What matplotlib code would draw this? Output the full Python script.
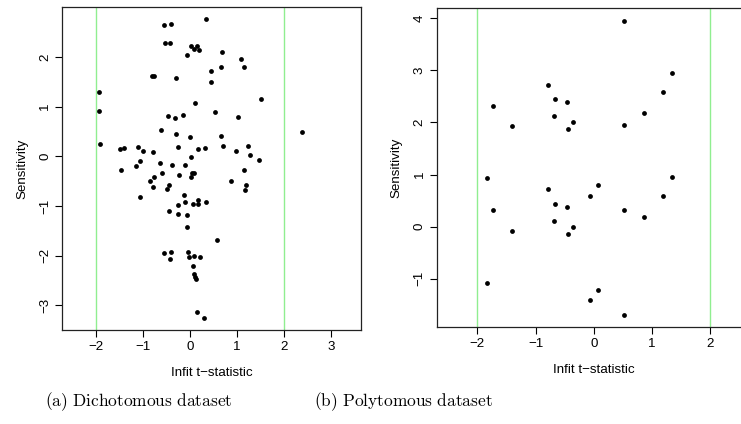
import matplotlib
matplotlib.use('Agg')
import matplotlib.pyplot as plt

plt.rcParams['font.family'] = ['Liberation Sans', 'DejaVu Sans']
plt.rcParams['mathtext.fontset'] = 'cm'

# (a) dichotomous dataset: infit t-statistic vs sensitivity
dich_infit = [0.33, -0.55, -0.40, -0.53, -0.43, 0.01, 0.14, 0.08, 0.18, -0.07,
              0.69, 1.08, 0.65, 1.14, 0.45, 0.45, -0.81, -0.76, -0.30, -1.94,
              -1.94, 1.50, 0.11, -0.46, -0.32, -0.14, 0.53, 1.02, 2.39, -0.62,
              -0.30, 0.65, 0.00, -1.92, -1.50, -1.40, -1.11, -1.01, -0.78, -0.25,
              0.17, 0.32, 0.71, 0.97, 1.23, 1.27, 1.46, 0.03, -1.46, -1.16,
              -1.06, -0.63, -0.39, -0.11, -0.59, -0.23, 0.04, 0.09, 0.01, -0.86,
              -0.77, -0.79, -0.44, -0.50, 0.87, 1.15, 1.19, 1.16, -1.07, -0.13,
              0.16, -0.11, 0.06, 0.17, 0.34, -0.26, -0.45, -0.26, -0.06, -0.06,
              0.58, -0.55, -0.41, -0.43, -0.04, -0.02, 0.09, 0.22, 0.06, 0.09,
              0.11, 0.13, 0.14, 0.30]
dich_sens = [2.76, 2.65, 2.67, 2.29, 2.29, 2.23, 2.23, 2.17, 2.15, 2.05,
             2.11, 1.96, 1.81, 1.81, 1.71, 1.49, 1.62, 1.62, 1.57, 1.29,
             0.92, 1.16, 1.07, 0.81, 0.78, 0.84, 0.90, 0.80, 0.50, 0.54,
             0.46, 0.41, 0.38, 0.25, 0.15, 0.17, 0.18, 0.11, 0.09, 0.18,
             0.15, 0.17, 0.21, 0.11, 0.21, 0.03, -0.07, -0.02, -0.27, -0.20,
             -0.09, -0.14, -0.17, -0.17, -0.34, -0.38, -0.34, -0.34, -0.42, -0.49,
             -0.41, -0.61, -0.57, -0.65, -0.49, -0.28, -0.57, -0.68, -0.81, -0.78,
             -0.88, -0.93, -0.96, -0.96, -0.93, -0.98, -1.11, -1.16, -1.18, -1.42,
             -1.69, -1.95, -1.93, -2.07, -1.93, -2.03, -2.01, -2.03, -2.22, -2.38,
             -2.44, -2.47, -3.14, -3.25]

# (b) polytomous dataset
poly_infit = [0.52, 1.35, -0.79, 1.18, -1.73, -0.66, -0.46, 0.87, -0.69, -0.36,
              -1.41, 0.52, -0.44, -1.84, 1.35, -0.79, 0.08, -0.07, 1.18, -0.66,
              -0.46, -1.73, 0.52, 0.87, -0.69, -0.36, -1.41, -0.44, -1.84, 0.08,
              -0.07, 0.52]
poly_sens = [3.96, 2.95, 2.73, 2.59, 2.32, 2.45, 2.39, 2.19, 2.13, 2.00,
             1.93, 1.95, 1.87, 0.93, 0.95, 0.72, 0.80, 0.59, 0.58, 0.44,
             0.38, 0.31, 0.31, 0.18, 0.11, -0.01, -0.08, -0.14, -1.09, -1.21,
             -1.42, -1.70]

captions = ['(a) Dichotomous dataset', '(b) Polytomous dataset']
cutoffs = [-2, 2]

fig = plt.figure(figsize=(7.41, 4.24), dpi=100)
ax1 = fig.add_axes([0.0841, 0.2217, 0.4031, 0.7618])
ax2 = fig.add_axes([0.5893, 0.2288, 0.4242, 0.7523])


def draw_panel(ax, x, y, xlim, ylim, xticks, yticks):
    for c in cutoffs:
        ax.axvline(c, color='#90EE90', lw=1.0, zorder=1)
    ax.scatter(x, y, s=12, color='black', linewidths=0, zorder=3)
    ax.set_xlim(*xlim)
    ax.set_ylim(*ylim)
    ax.set_xticks(xticks)
    ax.set_yticks(yticks)
    ax.tick_params(axis='both', direction='out', length=5, width=0.8,
                   labelsize=9.6, pad=3)
    for lab in ax.get_yticklabels():
        lab.set_rotation(90)
        lab.set_va('center')
    for sp in ax.spines.values():
        sp.set_linewidth(0.9)
        sp.set_color('#222222')
    ax.set_xlabel('Infit t\u2212statistic', fontsize=9.6, labelpad=10)
    ax.set_ylabel('Sensitivity', fontsize=9.6, labelpad=8)


draw_panel(ax1, dich_infit, dich_sens, (-2.72, 3.64), (-3.50, 3.01),
           [-2, -1, 0, 1, 2, 3], [-3, -2, -1, 0, 1, 2])
draw_panel(ax2, poly_infit, poly_sens, (-2.70, 2.70), (-1.93, 4.20),
           [-2, -1, 0, 1, 2], [-1, 0, 1, 2, 3, 4])

for xc, cap in zip([138.5 / 741, 403.7 / 741], captions):
    fig.text(xc, 1 - 402 / 424, r'$\mathrm{' + cap.replace(' ', r'\ ') + '}$',
             ha='center', va='center', fontsize=12.5)

fig.savefig('out.png', dpi=100)
